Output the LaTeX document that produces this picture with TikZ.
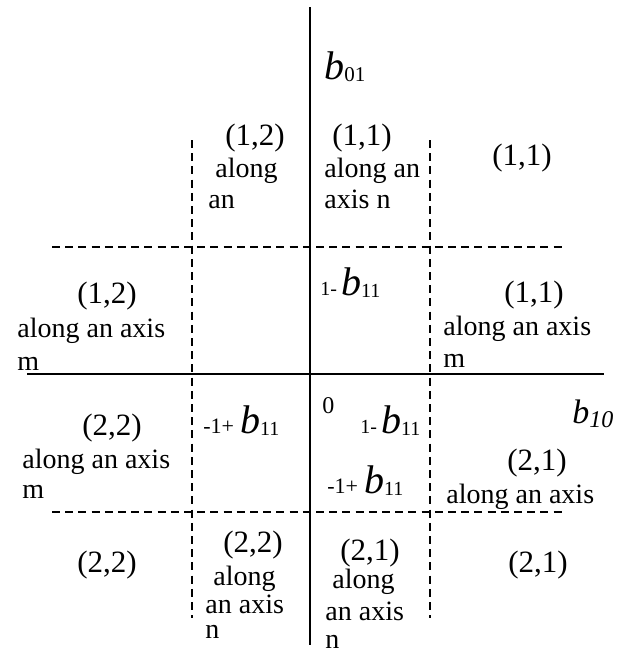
\documentclass[tikz,border=0pt]{standalone}
\usepackage{fontspec}
\setmainfont{Liberation Serif}
\usetikzlibrary{positioning}

% italic b with an upright index: \bidx{b size}{index size}{index}
\newcommand{\bidx}[3]{{\fontsize{#1}{#1}\selectfont\itshape b}\raisebox{-1pt}{\fontsize{#2}{#2}\selectfont #3}}

\begin{document}
\begin{tikzpicture}[
  x=0.5pt, y=-0.5pt,
  every node/.style={anchor=base west, inner sep=0pt},
  tup/.style={font=\fontsize{15.5}{17}\selectfont},
  txt/.style={font=\fontsize{14}{15}\selectfont},
  axisline/.style={line width=1.3pt},
  gridline/.style={line width=1pt, dash pattern=on 4pt off 2.6pt}
]
  \useasboundingbox (0,0) rectangle (622,655);

  % Ends of the axes and of the dashed lines
  \coordinate (vtop) at (310,7);
  \coordinate (vbot) at (310,645);
  \coordinate (hleft) at (27,374);
  \coordinate (hright) at (604,374);
  \coordinate (dtl) at (52,247);
  \coordinate (dtr) at (565,247);
  \coordinate (dbl) at (52,512);
  \coordinate (dbr) at (565,512);
  \coordinate (dlt) at (192,140);
  \coordinate (dlb) at (192,618);
  \coordinate (drt) at (430,140);
  \coordinate (drb) at (430,618);

  % Axis labels and the origin
  \node (b01) at (324,79) {\bidx{20}{10.5}{01}};
  \node (b10) at (572,423) {{\fontsize{17}{17}\selectfont\itshape b}\raisebox{-2pt}{\fontsize{12}{12}\selectfont\itshape 10}};
  \node[font=\fontsize{12}{12}\selectfont] (orig) at (322,413) {0};

  % Upper band
  \node[tup] (nw12) at (225,145) {(1,2)};
  \node[txt] (nw12a) at (215,177) {along};
  \node[txt] (nw12b) at (208,208) {an};
  \node[tup] (n11) at (332,145) {(1,1)};
  \node[txt] (n11a) at (324,177) {along an};
  \node[txt] (n11b) at (324,208) {axis n};
  \node[tup] (ne11) at (492,165) {(1,1)};

  % Between the top dashed line and the horizontal axis
  \node[tup] (w12) at (77,303) {(1,2)};
  \node[txt] (w12a) at (17,337) {along an axis};
  \node[txt] (w12b) at (17,370) {m};
  \node (c1) at (320,295) {{\fontsize{10}{10}\selectfont 1-}\hspace{2pt}\bidx{20}{10}{11}};
  \node[tup] (e11) at (504,302) {(1,1)};
  \node[txt] (e11a) at (443,335) {along an axis};
  \node[txt] (e11b) at (443,367) {m};

  % Between the horizontal axis and the bottom dashed line
  \node (c2) at (203,433) {{\fontsize{11}{11}\selectfont -1+}\hspace{3pt}\bidx{20}{10}{11}};
  \node (c3) at (360,433) {{\fontsize{10}{10}\selectfont 1-}\hspace{2pt}\bidx{20}{10}{11}};
  \node (c4) at (327,493) {{\fontsize{11}{11}\selectfont -1+}\hspace{3pt}\bidx{20}{10}{11}};
  \node[tup] (w22) at (82,435) {(2,2)};
  \node[txt] (w22a) at (22,468) {along an axis};
  \node[txt] (w22b) at (22,498) {m};
  \node[tup] (e21) at (507,470) {(2,1)};
  \node[txt] (e21a) at (446,503) {along an axis};

  % Lower band
  \node[tup] (sw22) at (77,572) {(2,2)};
  \node[tup] (s22) at (223,552) {(2,2)};
  \node[txt] (s22a) at (213,585) {along};
  \node[txt] (s22b) at (205,613) {an axis};
  \node[txt] (s22c) at (205,638) {n};
  \node[tup] (s21) at (340,560) {(2,1)};
  \node[txt] (s21a) at (332,588) {along};
  \node[txt] (s21b) at (325,620) {an axis};
  \node[txt] (s21c) at (325,648) {n};
  \node[tup] (se21) at (508,572) {(2,1)};

  % Dashed lines
  \draw[gridline] (dtl) -- (dtr);
  \draw[gridline] (dbl) -- (dbr);
  \draw[gridline] (dlt) -- (dlb);
  \draw[gridline] (drt) -- (drb);

  % Axes
  \draw[axisline] (vtop) -- (vbot);
  \draw[axisline] (hleft) -- (hright);
\end{tikzpicture}
\end{document}
